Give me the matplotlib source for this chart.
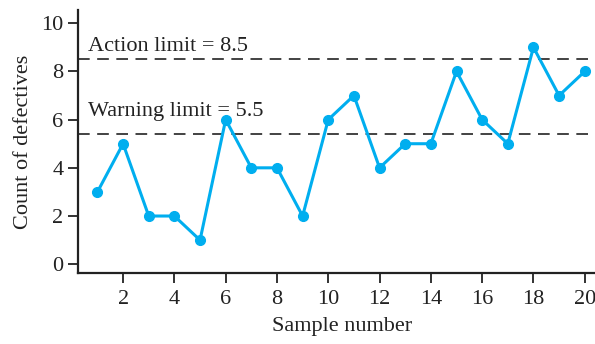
import matplotlib
matplotlib.use("Agg")
import matplotlib.pyplot as plt

# sample numbers and defect counts
samples = list(range(1, 21))
defectives = [3, 5, 2, 2, 1, 6, 4, 4, 2, 6, 7, 4, 5, 5, 8, 6, 5, 9, 7, 8]

action_limit = 8.5
warning_limit = 5.4  # drawn slightly below the labelled 5.5
xticks = [2, 4, 6, 8, 10, 12, 14, 16, 18, 20]
yticks = [0, 2, 4, 6, 8, 10]

plt.rcParams['font.family'] = ['Liberation Serif', 'DejaVu Serif']

fig = plt.figure(figsize=(5.95, 3.44), dpi=100)
ax = fig.add_axes([0.131, 0.206, 0.869, 0.765])

ax.plot(samples, defectives, color='#00aeef', lw=2.2, marker='o', ms=7, zorder=3)

ax.axhline(action_limit, color='#222222', lw=1.2, ls=(0, (7, 4.5)), zorder=1)
ax.axhline(warning_limit, color='#222222', lw=1.2, ls=(0, (7, 4.5)), zorder=1)

ax.text(0.62, 8.85, 'Action limit = 8.5', fontsize=16, color='#222222')
ax.text(0.62, 6.15, 'Warning limit = 5.5', fontsize=16, color='#222222')

ax.set_xlim(0.24, 20.4)
ax.set_ylim(-0.37, 10.55)
ax.set_xticks(xticks)
ax.set_yticks(yticks)
ax.tick_params(direction='out', length=7, width=1.3, labelsize=16, colors='#222222')
ax.tick_params(axis='x', pad=5)

for side in ['top', 'right']:
    ax.spines[side].set_visible(False)
for side in ['left', 'bottom']:
    ax.spines[side].set_linewidth(1.6)
    ax.spines[side].set_color('#222222')

ax.set_xlabel('Sample number', fontsize=16, color='#222222')
ax.xaxis.set_label_coords(0.51, -0.165)
ax.set_ylabel('Count of defectives', fontsize=16, color='#222222', labelpad=6)

fig.savefig('out.png', dpi=100)
plt.close(fig)
